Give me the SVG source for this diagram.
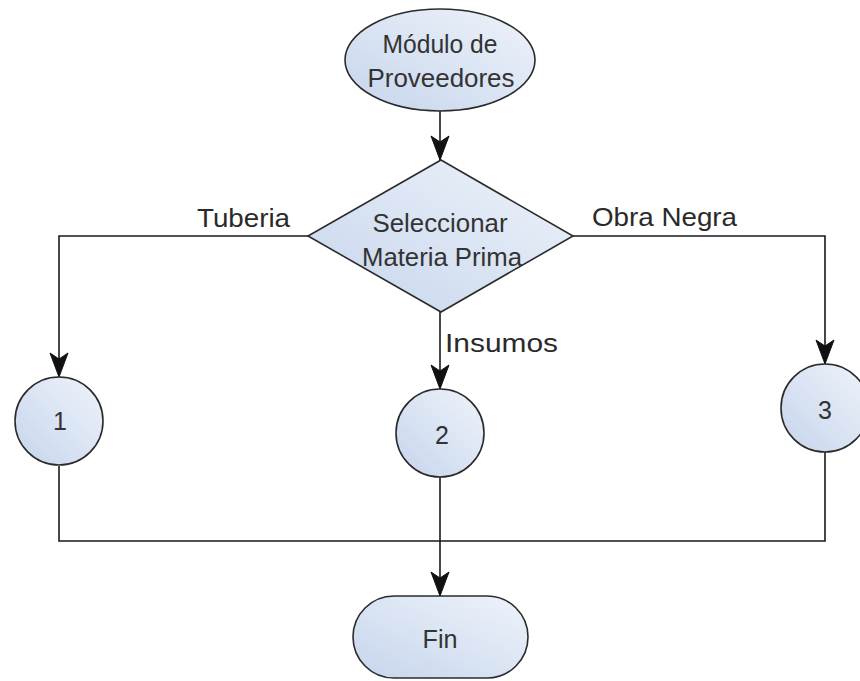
<svg xmlns="http://www.w3.org/2000/svg" width="860" height="681" viewBox="0 0 860 681">
  <style>
    .shape { stroke: #2b2b2b; stroke-width: 1.6; fill: url(#nodeFill); }
    .edge { fill: none; stroke: #1a1a1a; stroke-width: 1.6; }
    .lbl { font-family: "Liberation Sans", Arial, sans-serif; font-size: 25px; fill: #333333; text-anchor: middle; }
    .elbl { font-family: "Liberation Sans", Arial, sans-serif; font-size: 25px; fill: #2a2a2a; }
  </style>
  <defs>
    <linearGradient id="nodeFill" x1="0" y1="1" x2="1" y2="0">
      <stop offset="0" stop-color="#c6d5ec"/>
      <stop offset="1" stop-color="#eef3fa"/>
    </linearGradient>
    <marker id="arrow" markerUnits="userSpaceOnUse" markerWidth="26" markerHeight="20" refX="25" refY="10" orient="auto">
      <path d="M1,1 L25,10 L1,19 L7,10 Z" fill="#111111" stroke="#111111" stroke-width="1"/>
    </marker>
  </defs>

  <rect width="860" height="681" fill="#ffffff"/>

  <!-- connectors -->
  <g id="connectors">
    <path class="edge" d="M440,111 L440,160" marker-end="url(#arrow)"/>
    <path class="edge" d="M308,236 L59,236 L59,377" marker-end="url(#arrow)"/>
    <path class="edge" d="M573,236 L825,236 L825,364" marker-end="url(#arrow)"/>
    <path class="edge" d="M440,312 L440,389" marker-end="url(#arrow)"/>
    <path class="edge" d="M59,466 L59,541 L825,541 L825,452"/>
    <path class="edge" d="M440,477 L440,596" marker-end="url(#arrow)"/>
    <text class="elbl" x="197" y="227" textLength="93" lengthAdjust="spacingAndGlyphs">Tuberia</text>
    <text class="elbl" x="592" y="226" textLength="145" lengthAdjust="spacingAndGlyphs">Obra Negra</text>
    <text class="elbl" x="445" y="352" textLength="113" lengthAdjust="spacingAndGlyphs">Insumos</text>
  </g>

  <g id="modulo-proveedores">
    <ellipse class="shape" cx="440" cy="60" rx="95" ry="51"/>
    <text class="lbl" x="440" y="53" textLength="115" lengthAdjust="spacingAndGlyphs">Módulo de</text>
    <text class="lbl" x="441" y="87" textLength="147" lengthAdjust="spacingAndGlyphs">Proveedores</text>
  </g>

  <g id="seleccionar-materia">
    <polygon class="shape" points="441,160 573,236 441,312 308,236"/>
    <text class="lbl" x="440" y="232" textLength="135" lengthAdjust="spacingAndGlyphs">Seleccionar</text>
    <text class="lbl" x="442" y="266" textLength="160" lengthAdjust="spacingAndGlyphs">Materia Prima</text>
  </g>

  <g id="conector-1">
    <circle class="shape" cx="59" cy="421" r="44"/>
    <text class="lbl" x="60" y="430" font-size="24">1</text>
  </g>

  <g id="conector-2">
    <circle class="shape" cx="440" cy="433" r="44"/>
    <text class="lbl" x="442" y="444" font-size="24">2</text>
  </g>

  <g id="conector-3">
    <circle class="shape" cx="825" cy="408" r="44"/>
    <text class="lbl" x="825" y="419" font-size="24">3</text>
  </g>

  <g id="fin">
    <rect class="shape" x="353" y="596" width="175" height="82" rx="41" ry="41"/>
    <text class="lbl" x="440" y="648" textLength="35" lengthAdjust="spacingAndGlyphs">Fin</text>
  </g>
</svg>
